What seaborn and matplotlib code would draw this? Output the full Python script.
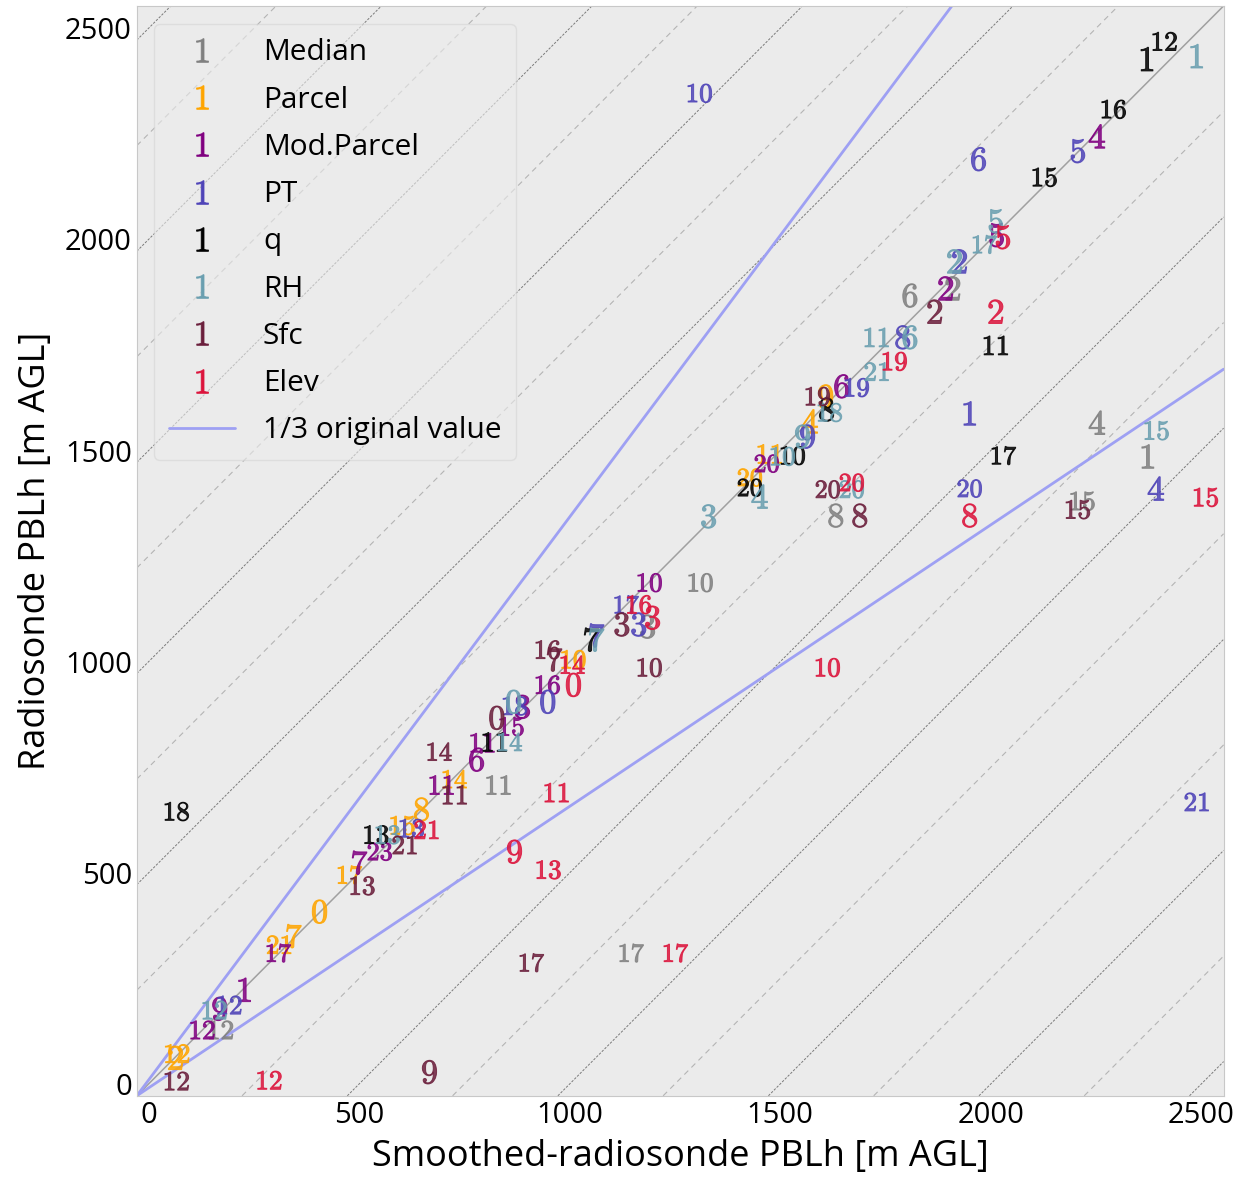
import matplotlib
matplotlib.use("Agg")
import matplotlib.pyplot as plt
from matplotlib.lines import Line2D
import seaborn as sns
import pandas as pd

# PBL heights per method: case label, smoothed-radiosonde x, radiosonde y  [m AGL]
median_case = [1, 4, 6, 2, 8, 10, 3, 11, 17, 15, 12]
median_x = [2373, 2252, 1808, 1910, 1632, 1311, 1185, 831, 1147, 2218, 172]
median_y = [1486, 1566, 1867, 1884, 1346, 1187, 1083, 708, 310, 1380, 128]

parcel_case = [0, 21, 7, 17, 8, 15, 14, 4, 10, 20, 11, 9, 12, 2]
parcel_x = [406, 310, 345, 478, 648, 603, 727, 1570, 1009, 1428, 1475, 1608, 68, 64]
parcel_y = [408, 330, 350, 495, 650, 612, 722, 1569, 1005, 1436, 1492, 1628, 72, 62]

modparcel_case = [4, 2, 5, 6, 20, 10, 16, 15, 3, 11, 6, 11, 23, 7, 17, 1, 9, 12]
modparcel_x = [2252, 1893, 2014, 1646, 1468, 1190, 948, 862, 888, 793, 779, 696, 549, 501, 309, 228, 169, 128]
modparcel_y = [2244, 1884, 2010, 1652, 1469, 1187, 945, 846, 893, 808, 768, 708, 550, 524, 310, 223, 178, 128]

pt_case = [10, 6, 5, 2, 8, 1, 20, 4, 21, 9, 19, 0, 3, 7, 17, 18, 13, 12]
pt_x = [1309, 1971, 2207, 1926, 1791, 1950, 1950, 2392, 2489, 1565, 1682, 948, 1164, 1064, 1135, 870, 625, 192]
pt_y = [2346, 2190, 2209, 1948, 1768, 1588, 1410, 1410, 668, 1533, 1649, 905, 1088, 1062, 1135, 895, 605, 187]

q_case = [12, 1, 16, 15, 11, 17, 10, 20, 8, 7, 11, 13, 18]
q_x = [2413, 2371, 2292, 2128, 2012, 2031, 1530, 1428, 1610, 1052, 822, 541, 67]
q_y = [2469, 2427, 2308, 2147, 1749, 1488, 1488, 1412, 1597, 1052, 810, 590, 645]

rh_case = [1, 5, 17, 2, 11, 6, 21, 18, 9, 10, 4, 20, 3, 15, 7, 0, 14, 13, 12]
rh_x = [2489, 2012, 1986, 1914, 1729, 1808, 1729, 1618, 1553, 1506, 1451, 1670, 1330, 2394, 1064, 867, 858, 568, 157]
rh_y = [2434, 2043, 1988, 1948, 1768, 1768, 1687, 1590, 1533, 1486, 1391, 1408, 1344, 1547, 1052, 905, 810, 590, 175]

sfc_case = [2, 8, 20, 19, 15, 3, 16, 7, 10, 0, 14, 11, 21, 13, 17, 9, 12]
sfc_x = [1867, 1689, 1613, 1589, 2207, 1124, 948, 964, 1190, 827, 691, 727, 608, 508, 910, 667, 67]
sfc_y = [1829, 1346, 1408, 1628, 1360, 1088, 1028, 1005, 986, 867, 787, 685, 566, 469, 287, 28, 7]

elev_case = [5, 2, 19, 20, 8, 15, 10, 3, 16, 14, 0, 11, 9, 13, 17, 12, 21]
elev_x = [2029, 2012, 1772, 1670, 1950, 2511, 1613, 1197, 1165, 1007, 1009, 969, 869, 950, 1252, 287, 660]
elev_y = [2005, 1829, 1711, 1424, 1346, 1389, 986, 1104, 1135, 993, 945, 690, 550, 507, 310, 9, 602]

methods = ["Median", "Parcel", "Mod.Parcel", "PT", "q", "RH", "Sfc", "Elev"]
colors = ["#808080", "#ffa500", "#800080", "#4f44b8", "#000000", "#6a9fb0", "#6b1f3c", "#dc143c"]

frames = []
for name, c, xs, ys in [
    ("Median", median_case, median_x, median_y),
    ("Parcel", parcel_case, parcel_x, parcel_y),
    ("Mod.Parcel", modparcel_case, modparcel_x, modparcel_y),
    ("PT", pt_case, pt_x, pt_y),
    ("q", q_case, q_x, q_y),
    ("RH", rh_case, rh_x, rh_y),
    ("Sfc", sfc_case, sfc_x, sfc_y),
    ("Elev", elev_case, elev_x, elev_y),
]:
    frames.append(pd.DataFrame({"method": name, "case": [str(v) for v in c], "smoothed": xs, "raw": ys}))
df = pd.concat(frames, ignore_index=True)

lo, hi = -28, 2553

sns.set_style("white", {"axes.facecolor": "#ebebeb", "axes.edgecolor": "#c8c8c8"})
plt.rcParams["font.family"] = ["Open Sans", "DejaVu Sans"]
plt.rcParams["mathtext.fontset"] = "cm"

fig, ax = plt.subplots(figsize=(12.55, 11.77), dpi=100)
fig.subplots_adjust(left=0.109, right=0.975, top=0.995, bottom=0.069)

# offset reference lines
for k in range(-10, 11):
    if k == 0:
        continue
    if k % 2 == 0:
        ax.axline((0, k * 250), slope=1, color="#7a7a7a", lw=0.7, ls=(0, (2.5, 1.5)), zorder=1)
    else:
        ax.axline((0, k * 250), slope=1, color="#b4b4b4", lw=0.8, ls=(0, (5, 4)), zorder=1)
ax.axline((0, 0), slope=1, color="#a0a0a0", lw=1.1, zorder=1)
ax.axline((lo, lo), slope=4 / 3, color="#9ea0f3", lw=2, zorder=2)
ax.axline((lo, lo), slope=2 / 3, color="#9ea0f3", lw=2, zorder=2)

case_markers = {c: f"${c}$" for c in df["case"].unique()}
sns.scatterplot(data=df, x="smoothed", y="raw", hue="method", style="case",
                palette=dict(zip(methods, colors)), markers=case_markers,
                s=290, edgecolor="face", linewidth=0.7, alpha=0.85,
                legend=False, ax=ax, zorder=3)

ax.set_xlim(lo, hi)
ax.set_ylim(lo, hi)
ticks = [0, 500, 1000, 1500, 2000, 2500]
ax.set_xticks(ticks)
ax.set_yticks(ticks)
ax.tick_params(direction="in", length=4, width=1, color="#333333", labelcolor="black", labelsize=21)
ax.set_xlabel("Smoothed-radiosonde PBLh [m AGL]", fontsize=26, labelpad=7, color="black")
ax.set_ylabel("Radiosonde PBLh [m AGL]", fontsize=26, labelpad=8, color="black")

handles = [Line2D([], [], ls="none", marker="$1$", markersize=17, color=c, markeredgewidth=0.6)
           for c in colors]
handles.append(Line2D([], [], color="#9ea0f3", lw=2))
labels = methods + ["1/3 original value"]
leg = ax.legend(handles, labels, loc="upper left", fontsize=21.5, frameon=True,
                framealpha=0.6, facecolor="#ebebeb", edgecolor="#d4d4d4",
                borderpad=0.5, labelspacing=0.61, handlelength=2.2,
                handletextpad=0.95, bbox_to_anchor=(0.002, 0.9975))
for t in leg.get_texts():
    t.set_color("black")

fig.savefig("out.png", dpi=100)
